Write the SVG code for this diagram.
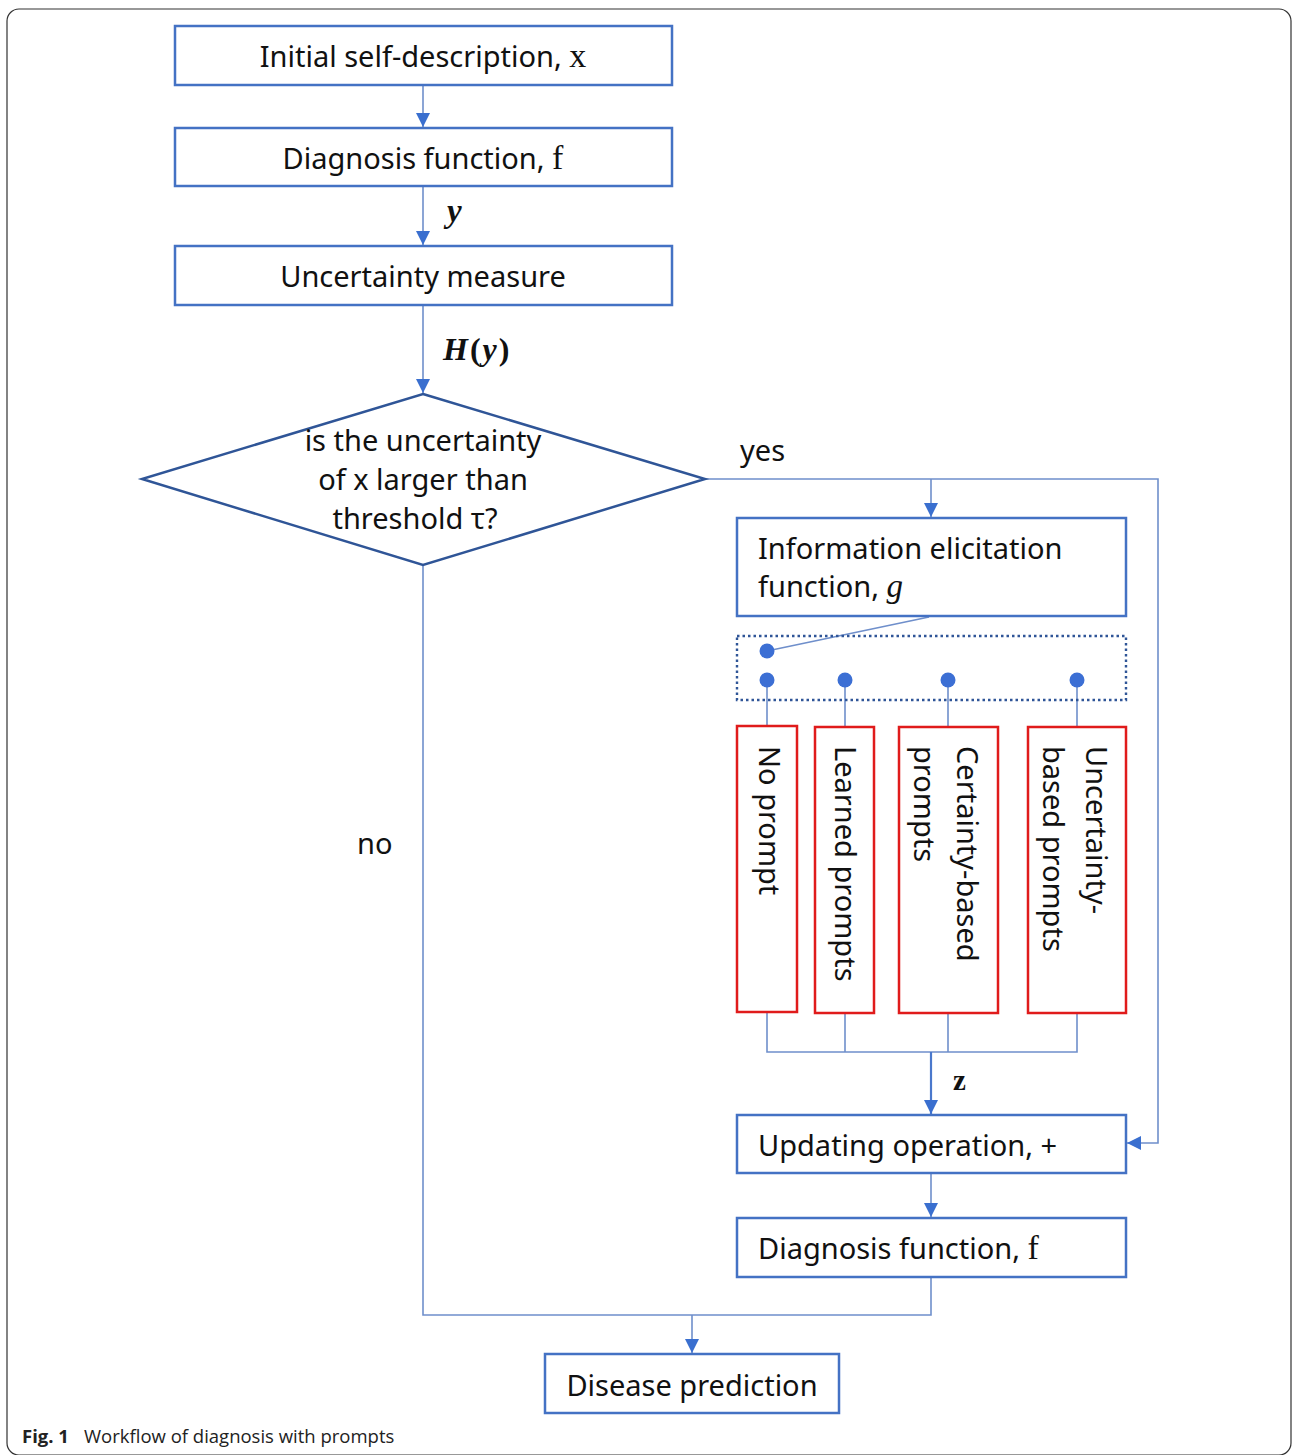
<svg xmlns="http://www.w3.org/2000/svg" width="1292" height="1455" viewBox="0 0 1292 1455">
<style>
.box{fill:#fff;stroke:#4472C4;stroke-width:2.5}
.red{fill:#fff;stroke:#E01B1B;stroke-width:2.5}
.ln{fill:none;stroke:#6F8FCB;stroke-width:1.6}
.t{font-family:"Noto Sans","Open Sans",sans-serif;font-size:29px;fill:#111}
.m{font-family:"Liberation Serif","DejaVu Serif",serif;fill:#111}
.dot{fill:#3C6FD4}
</style>
<defs>
<marker id="ah" viewBox="0 0 10 10" refX="10" refY="5" markerWidth="15" markerHeight="14" markerUnits="userSpaceOnUse" orient="auto">
<path d="M0,0 L10,5 L0,10 z" fill="#3A6FCF"/>
</marker>
</defs>
<rect x="7" y="9" width="1284" height="1446" rx="12" fill="#fff" stroke="#333" stroke-width="1.2"/>

<g id="connectors">
<line class="ln" x1="423" y1="86" x2="423" y2="127" marker-end="url(#ah)"/>
<line class="ln" x1="423" y1="187" x2="423" y2="245" marker-end="url(#ah)"/>
<line class="ln" x1="423" y1="306" x2="423" y2="393" marker-end="url(#ah)"/>
<polyline class="ln" points="705,479 1158,479 1158,1143 1127,1143" marker-end="url(#ah)"/>
<line class="ln" x1="931" y1="479" x2="931" y2="517" marker-end="url(#ah)"/>
<line class="ln" x1="929" y1="617" x2="767" y2="651"/>
<line class="ln" x1="767" y1="680" x2="767" y2="726"/>
<line class="ln" x1="845" y1="680" x2="845" y2="727"/>
<line class="ln" x1="948" y1="680" x2="948" y2="727"/>
<line class="ln" x1="1077" y1="680" x2="1077" y2="727"/>
<polyline class="ln" points="767,1012 767,1052 1077,1052 1077,1013"/>
<line class="ln" x1="845" y1="1013" x2="845" y2="1052"/>
<line class="ln" x1="948" y1="1013" x2="948" y2="1052"/>
<line class="ln" x1="931" y1="1052" x2="931" y2="1114" marker-end="url(#ah)" style="stroke-width:2.2;stroke:#4A78CC"/>
<line class="ln" x1="931" y1="1174" x2="931" y2="1217" marker-end="url(#ah)"/>
<polyline class="ln" points="931,1278 931,1315 423,1315 423,565"/>
<line class="ln" x1="692" y1="1315" x2="692" y2="1353" marker-end="url(#ah)"/>
<text class="m" x="447" y="222" font-size="33" font-weight="bold" font-style="italic">y</text>
<text class="m" x="443" y="360" font-size="32" font-weight="bold" letter-spacing="2"><tspan font-style="italic">H</tspan>(<tspan font-style="italic">y</tspan>)</text>
<text class="t" x="740" y="461">yes</text>
<text class="t" x="357" y="854">no</text>
<text class="m" x="953" y="1090" font-size="29" font-weight="bold">z</text>
</g>

<g id="n1"><rect class="box" x="175" y="26" width="497" height="59"/>
<text class="t" x="423" y="67" text-anchor="middle">Initial self-description, <tspan class="m" font-size="34">x</tspan></text></g>
<g id="n2"><rect class="box" x="175" y="128" width="497" height="58"/>
<text class="t" x="423" y="169" text-anchor="middle">Diagnosis function, <tspan class="m" font-size="34">f</tspan></text></g>
<g id="n3"><rect class="box" x="175" y="246" width="497" height="59"/>
<text class="t" x="423" y="287" text-anchor="middle">Uncertainty measure</text></g>
<g id="n4"><polygon points="423,394 705,479 423,565 142,479" fill="#fff" stroke="#2F5597" stroke-width="2.5"/>
<text class="t" x="423" y="451" text-anchor="middle">is the uncertainty</text>
<text class="t" x="423" y="490" text-anchor="middle">of x larger than</text>
<text class="t" x="415" y="529" text-anchor="middle">threshold τ?</text></g>
<g id="n5"><rect class="box" x="737" y="518" width="389" height="98"/>
<text class="t" x="758" y="559">Information elicitation</text>
<text class="t" x="758" y="597">function, <tspan class="m" font-style="italic" font-size="33">g</tspan></text></g>
<g id="n6"><rect x="737" y="636" width="389" height="64" fill="none" stroke="#2F5597" stroke-width="2.4" stroke-dasharray="2.5 3"/>
<circle class="dot" cx="767" cy="651" r="7.5"/>
<circle class="dot" cx="767" cy="680" r="7.5"/>
<circle class="dot" cx="845" cy="680" r="7.5"/>
<circle class="dot" cx="948" cy="680" r="7.5"/>
<circle class="dot" cx="1077" cy="680" r="7.5"/></g>
<g id="n7"><rect class="red" x="737" y="726" width="60" height="286"/>
<text class="t" transform="translate(759,746) rotate(90)">No prompt</text></g>
<g id="n8"><rect class="red" x="815" y="727" width="59" height="286"/>
<text class="t" transform="translate(835,746) rotate(90)">Learned prompts</text></g>
<g id="n9"><rect class="red" x="899" y="727" width="99" height="286"/>
<text class="t" transform="translate(957,746) rotate(90)">Certainty-based</text>
<text class="t" transform="translate(914,746) rotate(90)">prompts</text></g>
<g id="n10"><rect class="red" x="1028" y="727" width="98" height="286"/>
<text class="t" transform="translate(1086,746) rotate(90)">Uncertainty-</text>
<text class="t" transform="translate(1043,746) rotate(90)">based prompts</text></g>
<g id="n11"><rect class="box" x="737" y="1115" width="389" height="58"/>
<text class="t" x="758" y="1156">Updating operation, +</text></g>
<g id="n12"><rect class="box" x="737" y="1218" width="389" height="59"/>
<text class="t" x="758" y="1259">Diagnosis function, <tspan class="m" font-size="34">f</tspan></text></g>
<g id="n13"><rect class="box" x="545" y="1354" width="294" height="59"/>
<text class="t" x="692" y="1396" text-anchor="middle">Disease prediction</text></g>

<text x="22" y="1443" font-family="'Open Sans','Liberation Sans',sans-serif" font-size="18.5" fill="#222"><tspan font-weight="bold">Fig. 1</tspan><tspan x="84">Workflow of diagnosis with prompts</tspan></text>
</svg>
